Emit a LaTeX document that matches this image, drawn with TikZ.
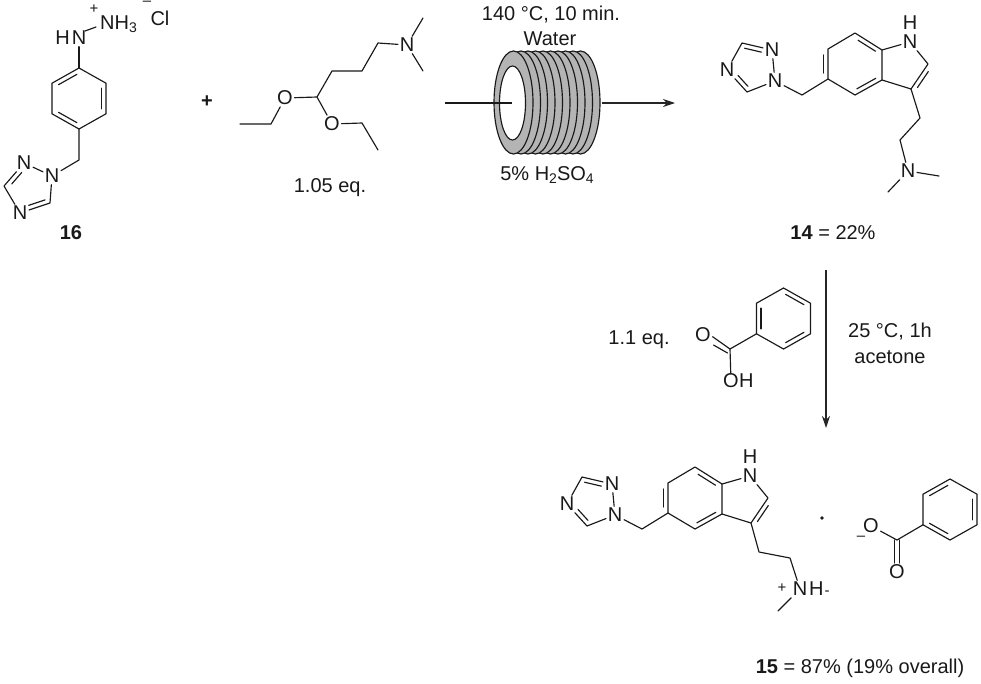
\documentclass[tikz,border=0pt]{standalone}
\usepackage{fontspec}
\setmainfont{Liberation Sans}
\usetikzlibrary{arrows.meta,calc}
\definecolor{coil}{HTML}{B4B4B4}
\newcommand{\sbs}[1]{\raisebox{-3.5pt}{\fontsize{14}{14}\selectfont #1}}
\newcommand{\dblR}[4]{\draw[bond] ($(#1)!#3!(#2)!4.5pt!-90:(#2)$) -- ($(#1)!#4!(#2)!4.5pt!-90:(#2)$);}
\newcommand{\benzring}[3]{% prefix, centre, pattern 0/1
  \coordinate (#1a) at ($(#2)+(0,-30.5)$);
  \coordinate (#1b) at ($(#2)+(27,-15.3)$);
  \coordinate (#1c) at ($(#2)+(27,15.3)$);
  \coordinate (#1d) at ($(#2)+(0,30.5)$);
  \coordinate (#1e) at ($(#2)+(-27,15.3)$);
  \coordinate (#1f) at ($(#2)+(-27,-15.3)$);
  \draw[bond,line join=miter] (#1a)--(#1b)--(#1c)--(#1d)--(#1e)--(#1f)--cycle;
  \ifnum#3=0
    \dblR{#1f}{#1a}{.16}{.84}\dblR{#1b}{#1c}{.16}{.84}\dblR{#1d}{#1e}{.16}{.84}
  \else
    \dblR{#1a}{#1b}{.16}{.84}\dblR{#1c}{#1d}{.16}{.84}\dblR{#1e}{#1f}{.16}{.84}
  \fi}
\newcommand{\indoletz}[1]{% prefix: indole + triazolylmethyl, drawn at the position of compound 14
  \coordinate (#1c7) at (855,33);
  \coordinate (#1c7a) at (882,50);
  \coordinate (#1c3a) at (882,80);
  \coordinate (#1c4) at (855,95);
  \coordinate (#1c5) at (828,79);
  \coordinate (#1c6) at (828,49);
  \coordinate (#1c2) at (928,64);
  \coordinate (#1c3) at (911,89);
  \coordinate (#1ch) at (802,95);
  \coordinate (#1t3) at (742,43);
  \coordinate (#1t5) at (747,92);
  \node[atom] (#1n1) at (910,42) {N};
  \node[atom] (#1h1) at (910,23) {H};
  \node[atom] (#1tn1) at (775,81) {N};
  \node[atom] (#1tn2) at (772,50) {N};
  \node[atom] (#1tn4) at (727,70) {N};
  \draw[bond] (#1c7)--(#1c7a)--(#1c3a)--(#1c4)--(#1c5)--(#1c6)--cycle;
  \dblR{#1c6}{#1c5}{.2}{.8}\dblR{#1c7}{#1c7a}{.2}{.85}\dblR{#1c3a}{#1c4}{.15}{.85}
  \draw[bond] (#1c7a)--(#1n1)--(#1c2)--(#1c3)--(#1c3a);
  \dblR{#1c3}{#1c2}{.16}{.8}
  \draw[bond] (#1c5)--(#1ch)--(#1tn1)--(#1tn2)--(#1t3)--(#1tn4)--(#1t5)--(#1tn1);
  \dblR{#1t3}{#1tn2}{.12}{.68}
  \dblR{#1t5}{#1tn4}{.12}{.62}}
\tikzset{
  bond/.style={line width=1.15pt,line join=round,line cap=round,black!90},
  atom/.style={inner sep=1.6pt,font=\fontsize{20}{22}\selectfont,text=black!90},
  lbl/.style={inner sep=0pt,font=\fontsize{20}{23}\selectfont,text=black!90},
  chg/.style={inner sep=0pt,font=\fontsize{15}{16}\selectfont,text=black!90},
  rxn/.style={line width=1.15pt,black!85,-{Stealth[length=12pt,width=8pt]}},
  turn/.style={draw=black!90,line width=1.15pt,fill=coil}
}
\begin{document}
\begin{tikzpicture}[x=1pt,y=-1pt]
\useasboundingbox (0,0) rectangle (981,683);
% ---------- compound 16
\benzring{p}{79,98.5}{0}
\node[atom] (hn) at (79,38) {N};
\node[atom,anchor=east,inner sep=0pt] (hh) at (hn.west) {H};
\node[atom,anchor=west,inner sep=0pt] (nh3) at (100,24) {NH\sbs{3}};
\node[chg] (plus16) at (94,9) {+};
\node[chg] (minus16) at (147,3.5) {–};
\node[lbl] (cl) at (160,18) {Cl};
\coordinate (bn1) at (85,31);
\coordinate (bn2) at (96,27);
\draw[bond] (bn1)--(bn2);
\draw[bond] (hn)--(pa);
\coordinate (pch) at (79,160);
\coordinate (c5p) at (50,203);
\coordinate (c3p) at (4,186);
\node[atom] (n1p) at (52,176) {N};
\node[atom] (n2p) at (24,163) {N};
\node[atom] (n4p) at (20,213) {N};
\draw[bond] (pd)--(pch)--(n1p)--(n2p)--(c3p)--(n4p)--(c5p)--(n1p);
\dblR{c3p}{n2p}{.22}{.72}
\dblR{c5p}{n4p}{.12}{.66}
\node[lbl,font=\fontsize{20}{23}\selectfont\bfseries] (l16) at (71,233) {16};
\node[lbl,font=\fontsize{20}{23}\selectfont\bfseries] (plus) at (207,102) {+};
% ---------- acetal
\coordinate (a1) at (240,124);
\coordinate (a2) at (271,124);
\node[atom] (ao1) at (285,98) {O};
\coordinate (a3) at (317,97);
\coordinate (a4) at (332,71);
\coordinate (a5) at (362,71);
\coordinate (a6) at (378,43);
\node[atom] (an) at (407,45) {N};
\coordinate (am1) at (423,18);
\coordinate (am2) at (423,71);
\node[atom] (ao2) at (332,124) {O};
\coordinate (a7) at (362,123);
\coordinate (a8) at (378,150);
\draw[bond] (a1)--(a2)--(ao1)--(a3)--(a4)--(a5)--(a6)--(an)--(am1);
\draw[bond] (an)--(am2);
\draw[bond] (a3)--(ao2)--(a7)--(a8);
\node[lbl] (eq105) at (330,188) {1.05 eq.};
% ---------- coil reactor
\node[lbl] (cond1) at (551,15) {140 °C, 10 min.};
\node[lbl] (cond2) at (550,39) {Water};
\node[lbl] (cond3) at (547,175) {5\% H\sbs{2}SO\sbs{4}};
\foreach \cx in {580.5,573,565.5,558,550.5,543,535.5,528,521}
  \draw[turn] (\cx,102.5) ellipse [x radius=19.5,y radius=51.5];
\draw[turn] (513.5,102.5) ellipse [x radius=19.5,y radius=51.5];
\draw[draw=black!90,line width=1.15pt,fill=white] (512.5,103) ellipse [x radius=13,y radius=37];
\coordinate (in0) at (445,103);
\coordinate (in1) at (512,103);
\coordinate (out0) at (602,103);
\coordinate (out1) at (675,103);
\draw[bond,line cap=butt] (in0)--(in1);
\draw[rxn] (out0)--(out1);
% ---------- compound 14
\indoletz{x}
\coordinate (xs1) at (920,118);
\coordinate (xs2) at (900,140);
\node[atom] (xn) at (908,171) {N};
\coordinate (xm1) at (939,176);
\coordinate (xm2) at (888,192);
\draw[bond] (xc3)--(xs1)--(xs2)--(xn)--(xm1);
\draw[bond] (xn)--(xm2);
\node[lbl] (l14) at (833,233) {\textbf{14} = 22\%};
% ---------- step 2
\coordinate (d0) at (826,270);
\coordinate (d1) at (826,428);
\draw[rxn] (d0)--(d1);
\node[lbl] (eq11) at (639,340) {1.1 eq.};
\node[lbl] (c25) at (890,332) {25 °C, 1h};
\node[lbl] (acet) at (890,357) {acetone};
\benzring{b}{783.5,318.5}{1}
\coordinate (bc) at (730,349);
\node[atom] (bo) at (703,335) {O};
\node[atom,anchor=west,inner sep=0pt] (boh) at (723,381) {O};
\node[atom,anchor=west,inner sep=0pt] (bhh) at (boh.east) {H};
\draw[bond] (be)--(bc)--(boh);
\draw[bond] (bo.-10)--(bc);
\draw[bond] ($(bo.-40)+(1,2)$)--($(bc)+(-2.5,4)$);
% ---------- compound 15
\begin{scope}[shift={(-160,434)}]
\indoletz{y}
\end{scope}
\coordinate (ys1) at (759,552);
\coordinate (ys2) at (790,558);
\node[atom] (yn) at (800,589) {N};
\node[atom,anchor=west,inner sep=0pt] (yh) at (yn.east) {H};
\node[chg] (yplus) at (782,588) {+};
\node[chg] (yminus) at (827,593) {-};
\coordinate (ym) at (778,611);
\draw[bond] (yc3)--(ys1)--(ys2)--(yn)--(ym);
\fill[black!90] (822,518) circle (1.8) node (dot) {};
\benzring{o}{950,509.5}{0}
\coordinate (oc) at (897,540);
\node[atom] (oo1) at (871,526) {O};
\node[atom] (oo2) at (897,572) {O};
\node[chg] (ominus) at (861,538) {–};
\draw[bond] (oe)--(oc)--(oo1);
\coordinate (oc1) at (894.5,540);
\coordinate (oc2) at (899.5,540);
\draw[bond] (oc1)--(oo2.north -| oc1);
\draw[bond] (oc2)--(oo2.north -| oc2);
\node[lbl] (l15) at (860,668) {\textbf{15} = 87\% (19\% overall)};
\end{tikzpicture}
\end{document}
